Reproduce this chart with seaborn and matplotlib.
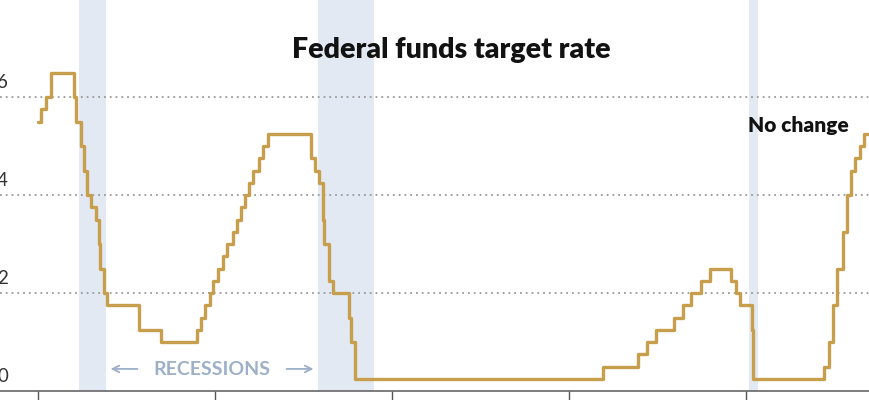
import numpy as np
import pandas as pd
import matplotlib
matplotlib.use('Agg')
import matplotlib.pyplot as plt
import seaborn as sns

# fed funds target rate (upper bound), date of each change
dates = ['2000-01-01', '2000-02-02', '2000-03-21', '2000-05-16',
         '2001-01-03', '2001-01-31', '2001-03-20', '2001-04-18', '2001-05-15',
         '2001-06-27', '2001-08-21', '2001-09-17', '2001-10-02', '2001-11-06',
         '2001-12-11', '2002-11-06', '2003-06-25',
         '2004-06-30', '2004-08-10', '2004-09-21', '2004-11-10', '2004-12-14',
         '2005-02-02', '2005-03-22', '2005-05-03', '2005-06-30', '2005-08-09',
         '2005-09-20', '2005-11-01', '2005-12-13', '2006-01-31', '2006-03-28',
         '2006-05-10', '2006-06-29',
         '2007-09-18', '2007-10-31', '2007-12-11', '2008-01-22', '2008-01-30',
         '2008-03-18', '2008-04-30', '2008-10-08', '2008-10-29', '2008-12-16',
         '2015-12-16', '2016-12-14', '2017-03-15', '2017-06-14', '2017-12-13',
         '2018-03-21', '2018-06-13', '2018-09-26', '2018-12-19',
         '2019-07-31', '2019-09-18', '2019-10-30', '2020-03-03', '2020-03-15',
         '2022-03-16', '2022-05-04', '2022-06-15', '2022-07-27', '2022-09-21',
         '2022-11-02', '2022-12-14', '2023-02-01', '2023-03-22', '2023-05-03',
         '2023-06-14']
rates = [5.50, 5.75, 6.00, 6.50,
         6.00, 5.50, 5.00, 4.50, 4.00,
         3.75, 3.50, 3.00, 2.50, 2.00,
         1.75, 1.25, 1.00,
         1.25, 1.50, 1.75, 2.00, 2.25,
         2.50, 2.75, 3.00, 3.25, 3.50,
         3.75, 4.00, 4.25, 4.50, 4.75,
         5.00, 5.25,
         4.75, 4.50, 4.25, 3.50, 3.00,
         2.25, 2.00, 1.50, 1.00, 0.25,
         0.50, 0.75, 1.00, 1.25, 1.50,
         1.75, 2.00, 2.25, 2.50,
         2.25, 2.00, 1.75, 1.25, 0.25,
         0.50, 1.00, 1.75, 2.50, 3.25,
         4.00, 4.50, 4.75, 5.00, 5.25,
         5.25]

rec_start = ['2001-03-01', '2007-12-01', '2020-02-01']
rec_end = ['2001-11-30', '2009-06-30', '2020-04-30']

yticks = [0, 2, 4, 6]

df = pd.DataFrame({'date': pd.to_datetime(dates), 'rate': rates})

sns.set_style('white')
plt.rcParams['font.family'] = ['Lato', 'DejaVu Sans']

fig = plt.figure(figsize=(8.7, 4.0), dpi=100)
ax = fig.add_axes([0, 9 / 400, 1, 391 / 400])

gold = '#c79f4c'
band = '#e2e9f2'

for s, e in zip(rec_start, rec_end):
    ax.axvspan(pd.Timestamp(s), pd.Timestamp(e), color=band, lw=0, zorder=0)

for v in yticks[1:]:
    ax.axhline(v, color='#9a9a9a', lw=1.3, ls=(0, (1, 2.2)), zorder=1)

sns.lineplot(data=df, x='date', y='rate', drawstyle='steps-post',
             color=gold, lw=2.4, ax=ax, zorder=3)

ax.set_xlim(pd.Timestamp('1998-12-04'), pd.Timestamp('2023-07-01'))
ax.set_ylim(0, 391 / 49)
ax.set_xlabel('')
ax.set_ylabel('')
ax.set_yticks([])
ax.set_xticks(pd.to_datetime(['2000-01-01', '2005-01-01', '2010-01-01',
                              '2015-01-01', '2020-01-01']))
ax.set_xticklabels([])
ax.tick_params(axis='x', direction='out', length=7, width=1, color='#555555',
               bottom=True)
for side in ['top', 'left', 'right']:
    ax.spines[side].set_visible(False)
ax.spines['bottom'].set_color('#666666')
ax.spines['bottom'].set_linewidth(1.2)

# y labels sit above the gridlines, partly cut at the left edge like the original
for v in yticks:
    ax.annotate(str(v), xy=(0, v), xycoords=('axes fraction', 'data'),
                xytext=(-2, 4), textcoords='offset points',
                ha='left', va='bottom', fontsize=13.5, color='#333333')

fig.text(451 / 870, 1 - 58 / 400, 'Federal funds target rate',
         ha='center', va='baseline', fontsize=20.5, fontweight='heavy',
         color='#121212')

ax.annotate('No change', xy=(pd.Timestamp('2021-06-25'), 5.42),
            ha='center', va='center', fontsize=15, fontweight='heavy',
            color='#121212')

rec_col = '#9db0c8'
ax.text(pd.Timestamp('2004-12-01'), 0.43, 'RECESSIONS', ha='center',
        va='center', fontsize=14, fontweight='bold', color=rec_col)
ax.annotate('', xy=(pd.Timestamp('2001-12-20'), 0.45),
            xytext=(pd.Timestamp('2002-11-20'), 0.45),
            arrowprops=dict(arrowstyle='->', color=rec_col, lw=1.3,
                            mutation_scale=12))
ax.annotate('', xy=(pd.Timestamp('2007-11-10'), 0.45),
            xytext=(pd.Timestamp('2006-12-10'), 0.45),
            arrowprops=dict(arrowstyle='->', color=rec_col, lw=1.3,
                            mutation_scale=12))

fig.savefig('out.png', dpi=100)
